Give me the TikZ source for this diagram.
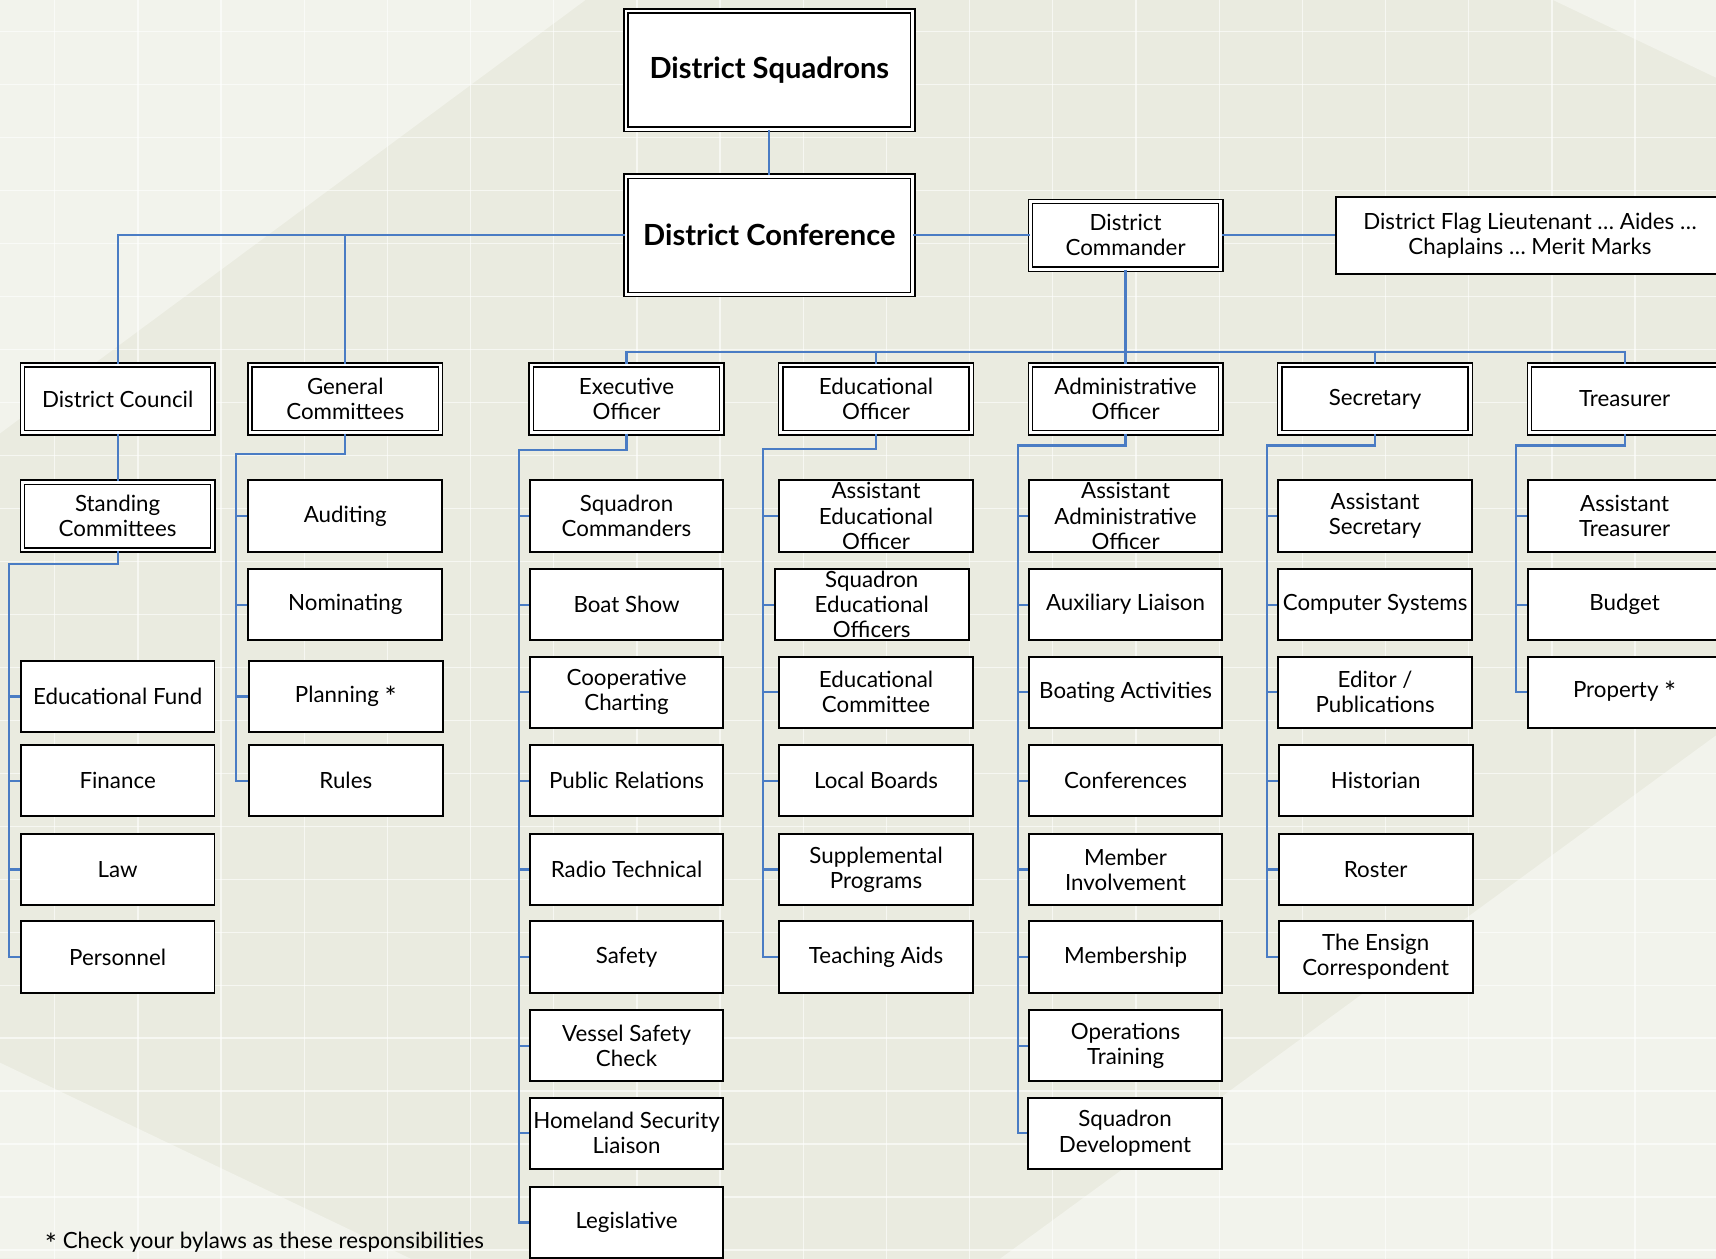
\documentclass[tikz,border=0pt]{standalone}
\usepackage{fontspec}
\setmainfont{Lato}
\definecolor{bgbase}{RGB}{234,235,224}
\definecolor{bglight}{RGB}{242,243,236}
\definecolor{linkblue}{RGB}{74,124,196}
\newcommand{\starmark}{\raisebox{-0.45ex}{\fontsize{13}{13}\selectfont *}}
\tikzset{
  box/.style={draw, fill=white, line width=0.9pt, minimum width=88.5pt, minimum height=32.5pt,
    align=center, inner xsep=1pt, inner ysep=-0.6pt, font=\fontsize{10.2}{11.5}\selectfont},
  dbox/.style={box, double, line width=0.65pt, double distance=1.3pt, minimum width=87pt, minimum height=31pt},
  head/.style={dbox, minimum width=131pt, minimum height=54pt, font=\fontsize{13.3}{15}\selectfont\bfseries},
  link/.style={draw=linkblue, line width=1pt},
  grid line/.style={white, opacity=0.6, line width=0.6pt}
}
\begin{document}
\begin{tikzpicture}[x=0.5pt,y=-0.5pt]
	\useasboundingbox (0,0) rectangle (1568,1150);
	\fill[bgbase] (0,0) rectangle (1568,1150);
	\fill[bglight] (0,0) -- (535,0) -- (0,396) -- cycle;
	\fill[bglight] (0,971) -- (375,1150) -- (0,1150) -- cycle;
	\fill[bglight] (1568,672) -- (914,1150) -- (1568,1150) -- cycle;
	\fill[bglight] (1419,0) -- (1568,0) -- (1568,71) -- cycle;
	\foreach \x in {50,126,...,1568} \draw[grid line] (\x,0) -- (\x,1150);
	\foreach \y in {29,77.4,...,1150} \draw[grid line] (0,\y) -- (1568,\y);

	\node[head] (squad) at (703,64) {District Squadrons};
	\node[head] (conf) at (703,215) {District Conference};
	\node[dbox] (cmdr) at (1028.5,215) {District\\Commander};
	\node[box, minimum width=177pt, minimum height=35pt] (flag) at (1398,215) {District Flag Lieutenant … Aides …\\Chaplains … Merit Marks};

	\node[dbox] (council) at (107.5,364.5) {District Council};
	\node[dbox] (gencom) at (315.5,364.5) {General\\Committees};
	\node[dbox] (exo) at (572.5,364.5) {Executive\\Officer};
	\node[dbox] (edo) at (800.5,364.5) {Educational\\Officer};
	\node[dbox] (ado) at (1028.5,364.5) {Administrative\\Officer};
	\node[dbox] (sec) at (1256.5,364.5) {Secretary};
	\node[dbox] (treas) at (1484.5,364.5) {Treasurer};

	\node[dbox] (standing) at (107.5,471.5) {Standing\\Committees};
	\node[box] (edfund) at (107.5,636.5) {Educational Fund};
	\node[box] (finance) at (107.5,713.5) {Finance};
	\node[box] (law) at (107.5,794.5) {Law};
	\node[box] (personnel) at (107.5,874.5) {Personnel};

	\node[box] (auditing) at (315.5,471.5) {Auditing};
	\node[box] (nominating) at (315.5,552.5) {Nominating};
	\node[box] (planning) at (316,636.5) {Planning \starmark};
	\node[box] (rules) at (316,713.5) {Rules};

	\node[box] (sqcmd) at (572.5,471.5) {Squadron\\Commanders};
	\node[box] (boat) at (572.5,552.5) {Boat Show};
	\node[box] (coop) at (572.5,632.5) {Cooperative\\Charting};
	\node[box] (pr) at (572.5,713.5) {Public Relations};
	\node[box] (radio) at (572.5,794.5) {Radio Technical};
	\node[box] (safety) at (572.5,874.5) {Safety};
	\node[box] (vsc) at (572.5,955.5) {Vessel Safety\\Check};
	\node[box] (homeland) at (572.5,1035.5) {Homeland Security\\Liaison};
	\node[box] (legis) at (572.5,1117) {Legislative};

	\node[box] (asedu) at (800.5,471.5) {Assistant\\Educational\\Officer};
	\node[box] (sqedu) at (796.5,552.5) {Squadron\\Educational\\Officers};
	\node[box] (edcom) at (800.5,632.5) {Educational\\Committee};
	\node[box] (boards) at (800.5,713.5) {Local Boards};
	\node[box] (supp) at (800.5,794.5) {Supplemental\\Programs};
	\node[box] (aids) at (800.5,874.5) {Teaching Aids};

	\node[box] (asado) at (1028.5,471.5) {Assistant\\Administrative\\Officer};
	\node[box] (aux) at (1028.5,552.5) {Auxiliary Liaison};
	\node[box] (boating) at (1028.5,632.5) {Boating Activities};
	\node[box] (confs) at (1028.5,713.5) {Conferences};
	\node[box] (member) at (1028.5,794.5) {Member\\Involvement};
	\node[box] (membership) at (1028.5,874.5) {Membership};
	\node[box] (ops) at (1028.5,955.5) {Operations\\Training};
	\node[box] (sqdev) at (1028,1035.5) {Squadron\\Development};

	\node[box] (assec) at (1256.5,471.5) {Assistant\\Secretary};
	\node[box] (comp) at (1256.5,552.5) {Computer Systems};
	\node[box] (editor) at (1256.5,632.5) {Editor /\\Publications};
	\node[box] (hist) at (1257,713.5) {Historian};
	\node[box] (roster) at (1257,794.5) {Roster};
	\node[box] (ensign) at (1257,874.5) {The Ensign\\Correspondent};

	\node[box] (astreas) at (1484.5,471.5) {Assistant\\Treasurer};
	\node[box] (budget) at (1484.5,552.5) {Budget};
	\node[box] (property) at (1484.5,632.5) {Property \starmark};

	\node[anchor=west, font=\fontsize{10.2}{11.5}\selectfont] (note) at (34,1136) {\starmark\ Check your bylaws as these responsibilities};

	\draw[link] (squad) -- (conf);
	\draw[link] (conf) -- (cmdr);
	\draw[link] (cmdr) -- (flag);
	\draw[link] (conf.west) -| (council.north);
	\draw[link] (conf.west -| gencom.north) -- (gencom.north);
	\coordinate (bus) at (1028.5,322);
	\draw[link] (exo.north) |- (bus) -| (treas.north);
	\draw[link] (cmdr) -- (ado);
	\foreach \n in {edo,sec} \draw[link] (\n.north) -- (\n.north |- bus);

	\draw[link] (council) -- (standing);
	\coordinate (sp1) at (8,515);
	\draw[link] (standing.south) |- (sp1) |- (personnel.west);
	\foreach \n in {edfund,finance,law} \draw[link] (\n.west) -- (\n.west -| sp1);
	\coordinate (sp2) at (216,415);
	\draw[link] (gencom.south) |- (sp2) |- (rules.west);
	\foreach \n in {auditing,nominating,planning} \draw[link] (\n.west) -- (\n.west -| sp2);
	\coordinate (sp3) at (474,411);
	\draw[link] (exo.south) |- (sp3) |- (legis.west);
	\foreach \n in {sqcmd,boat,coop,pr,radio,safety,vsc,homeland} \draw[link] (\n.west) -- (\n.west -| sp3);
	\coordinate (sp4) at (697,410);
	\draw[link] (edo.south) |- (sp4) |- (aids.west);
	\foreach \n in {asedu,sqedu,edcom,boards,supp} \draw[link] (\n.west) -- (\n.west -| sp4);
	\coordinate (sp5) at (930,407);
	\draw[link] (ado.south) |- (sp5) |- (sqdev.west);
	\foreach \n in {asado,aux,boating,confs,member,membership,ops} \draw[link] (\n.west) -- (\n.west -| sp5);
	\coordinate (sp6) at (1158,407);
	\draw[link] (sec.south) |- (sp6) |- (ensign.west);
	\foreach \n in {assec,comp,editor,hist,roster} \draw[link] (\n.west) -- (\n.west -| sp6);
	\coordinate (sp7) at (1385,407);
	\draw[link] (treas.south) |- (sp7) |- (property.west);
	\foreach \n in {astreas,budget} \draw[link] (\n.west) -- (\n.west -| sp7);

\end{tikzpicture}
\end{document}
